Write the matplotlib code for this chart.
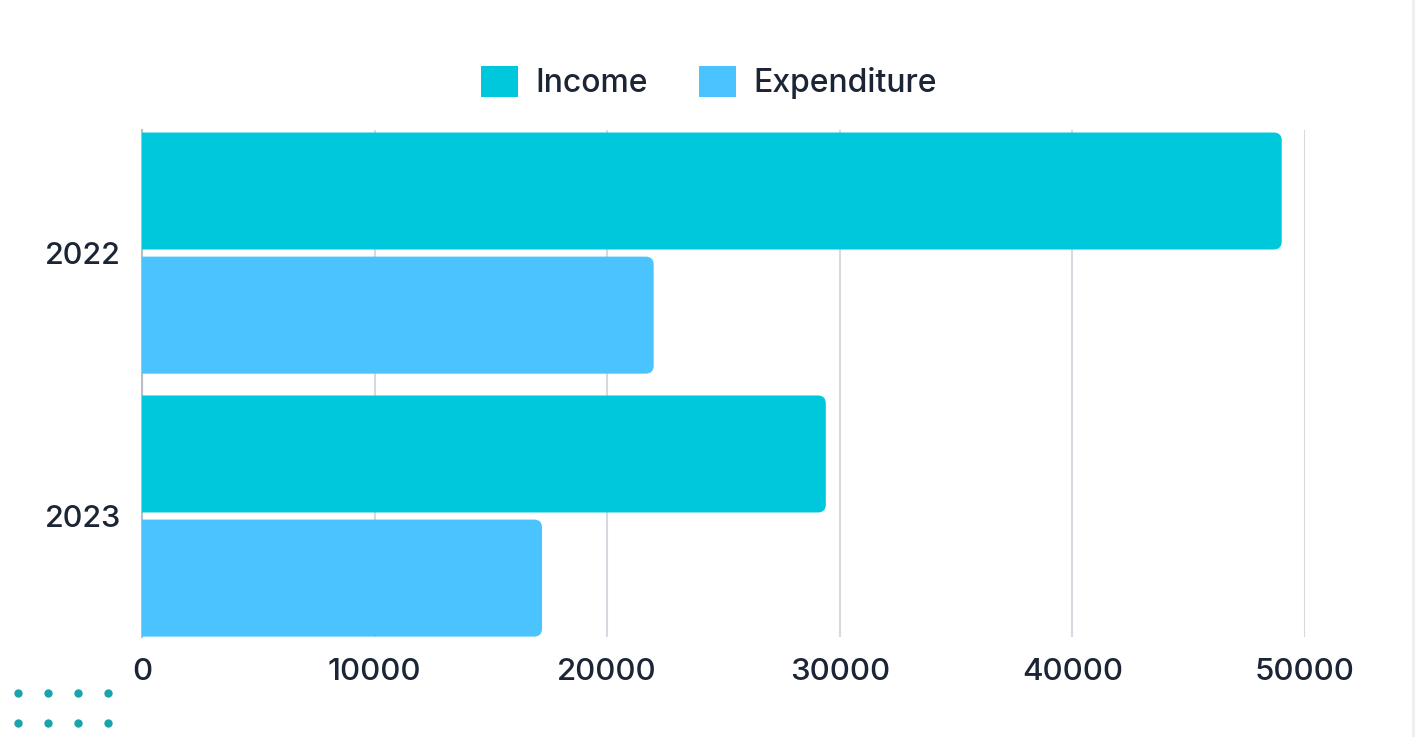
import matplotlib
matplotlib.use("Agg")
import matplotlib.pyplot as plt
from matplotlib.patches import FancyBboxPatch, Patch
from matplotlib.lines import Line2D
import numpy as np

plt.rcParams['font.family'] = ['Inter', 'DejaVu Sans']
plt.rcParams['font.weight'] = 'medium'

years = ["2022", "2023"]
income = [49000, 29400]
expenditure = [22000, 17200]
series_names = ["Income", "Expenditure"]
colors = ["#00C8DC", "#4AC3FE"]
xticks = [0, 10000, 20000, 30000, 40000, 50000]
text_color = "#1b2536"

fig = plt.figure(figsize=(14.18, 7.37), dpi=100)
ax = fig.add_axes([0.1001, 0.1357, 0.8202, 0.6879])

pos = np.arange(len(years))
h = 0.445
off = 0.236
b1 = ax.barh(pos - off, income, height=h, color=colors[0])
b2 = ax.barh(pos + off, expenditure, height=h, color=colors[1])

ax.set_xlim(0, 50000)
ax.set_ylim(1.46, -0.468)

# swap plain rectangles for ones with rounded right ends
xpp = 50000 / (0.8202 * 1418)
ypp = (1.46 + 0.468) / (0.6879 * 737)
for bars in (b1, b2):
    for r in bars:
        x, y, w, hh = r.get_x(), r.get_y(), r.get_width(), r.get_height()
        fc = r.get_facecolor()
        r.set_visible(False)
        p = FancyBboxPatch((x - 600, y), w + 600, hh,
                           boxstyle="round,pad=0,rounding_size=%f" % (8 * xpp),
                           mutation_aspect=ypp / xpp, fc=fc, ec="none",
                           zorder=3, clip_on=True)
        ax.add_patch(p)
        p.set_clip_path(ax.patch)

ax.set_xticks(xticks)
ax.set_xticklabels([str(t) for t in xticks])
ax.set_yticks(pos)
ax.set_yticklabels(years)
ax.grid(axis="x", color="#d5dae0", linewidth=1.5, zorder=0)
ax.set_axisbelow(True)
for s in ["top", "right", "bottom"]:
    ax.spines[s].set_visible(False)
ax.spines["left"].set_color("#b9bec5")
ax.spines["left"].set_linewidth(1.5)
ax.tick_params(axis="y", length=0, pad=15, labelsize=22, labelcolor=text_color)
ax.tick_params(axis="x", length=0, pad=15, labelsize=22.5, labelcolor=text_color)

handles = [Patch(facecolor=c, edgecolor="none") for c in colors]
fig.legend(handles, series_names, loc="center", bbox_to_anchor=(0.500, 0.888),
           ncol=2, frameon=False, fontsize=23, labelcolor=text_color,
           handlelength=1.15, handleheight=1.15, handletextpad=0.55,
           columnspacing=1.6)

# decorative dots bottom left
W, H = 1418, 737
for dy in (693, 723):
    for dx in (18, 48, 78, 108):
        fig.add_artist(Line2D([dx / W], [1 - dy / H], marker="o", markersize=5,
                              color="#1aa3ab", linestyle="none"))
fig.add_artist(Line2D([1413 / W, 1413 / W], [0, 1], color="#eceef0", linewidth=2))

fig.savefig("out.png", dpi=100)
